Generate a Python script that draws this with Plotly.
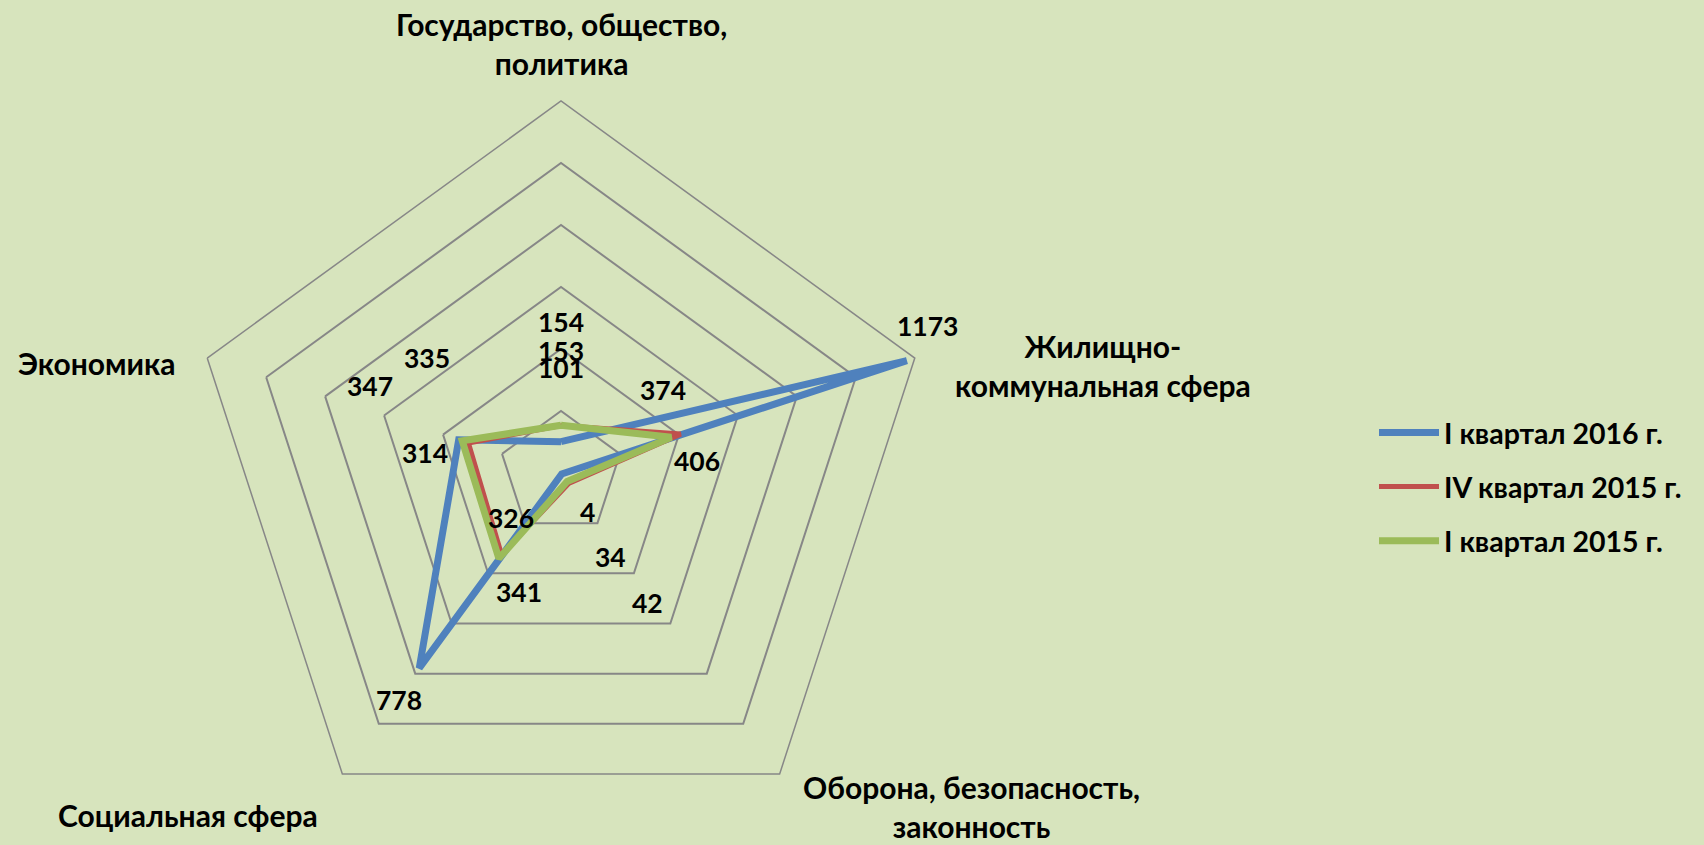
import plotly.graph_objects as go

# ---------------- data ----------------
categories = [
    "Государство, общество, политика",
    "Жилищно-коммунальная сфера",
    "Оборона, безопасность, законность",
    "Социальная сфера",
    "Экономика",
]
category_text = [
    "Государство, общество,<br>политика",
    "Жилищно-<br>коммунальная сфера",
    "Оборона, безопасность,<br>законность",
    "Социальная сфера",
    "Экономика",
]
series_names = ["I квартал 2016 г.", "IV квартал 2015 г.", "I квартал 2015 г."]
q1_2016 = [101, 1173, 4, 778, 347]
q4_2015 = [153, 406, 42, 326, 314]
q1_2015 = [154, 374, 34, 341, 335]
series_values = [q1_2016, q4_2015, q1_2015]

# ---------------- styles / positions ----------------
colors = ["#4F81BD", "#C0504D", "#9BBB59"]
widths = [7, 5, 7]
BG = "#D7E4BD"
GRID = "#878787"
FONT = "Lato"

W, H = 1704, 845
R = 372            # polar radius in px
CX = 561           # polar centre x (px from left)
CY = H - R         # polar centre y (px from top)

# value-label offsets relative to the chart centre, in units of radius
label_offsets = [
    [(0.0, -0.282), (0.984, -0.396), (0.070, 0.104), (-0.435, 0.609), (-0.513, -0.233)],
    [(0.0, -0.329), (0.365, -0.031), (0.233, 0.350), (-0.135, 0.122), (-0.365, -0.054)],
    [(0.0, -0.407), (0.275, -0.223), (0.132, 0.225), (-0.114, 0.319), (-0.360, -0.308)],
]
# category label centres (px)
category_pos = [(561, 44), (1103, 365), (971, 806), (188, 815), (97, 363)]

fig = go.Figure()
for name, vals, col, lw in zip(series_names, series_values, colors, widths):
    fig.add_trace(go.Scatterpolar(
        r=vals + vals[:1],
        theta=categories + categories[:1],
        mode="lines",
        name=name,
        legendgroup=name,
        line=dict(color=col, width=lw),
        hoverinfo="skip",
    ))

annotations = []
for vals, offs in zip(series_values, label_offsets):
    for v, (dx, dy) in zip(vals, offs):
        annotations.append(dict(
            x=(CX + dx * R) / W, y=1 - (CY + dy * R) / H,
            xref="paper", yref="paper", text=str(v), showarrow=False,
            xanchor="center", yanchor="middle",
            font=dict(family=FONT, size=26.5, color="black", weight="bold"),
        ))
for txt, (px, py) in zip(category_text, category_pos):
    annotations.append(dict(
        x=px / W, y=1 - py / H, xref="paper", yref="paper", text=txt,
        showarrow=False, xanchor="center", yanchor="middle", align="center",
        font=dict(family=FONT, size=30, color="black", weight="bold"),
    ))

fig.update_layout(
    width=W, height=H,
    margin=dict(l=0, r=0, t=0, b=0),
    paper_bgcolor=BG, plot_bgcolor=BG,
    polar=dict(
        domain=dict(x=[(CX - R) / W, (CX + R) / W], y=[0, 2 * R / H]),
        bgcolor="rgba(0,0,0,0)",
        gridshape="linear",
        radialaxis=dict(range=[0, 1200], dtick=200, showticklabels=False, ticks="",
                        showline=False, gridcolor=GRID, gridwidth=1.5),
        angularaxis=dict(rotation=90, direction="clockwise", showgrid=False,
                         showticklabels=False, ticks="", showline=True,
                         linecolor=GRID, linewidth=1.5),
    ),
    legend=dict(x=1374 / W, y=1 - 487 / H, xanchor="left", yanchor="middle",
                bgcolor="rgba(0,0,0,0)", tracegroupgap=14, itemwidth=60,
                font=dict(family=FONT, size=28.5, color="black", weight="bold")),
    annotations=annotations,
)

fig.write_html("out.html", config={"displayModeBar": False},
               post_script="document.body.style.margin='0';document.body.style.overflow='hidden';")
